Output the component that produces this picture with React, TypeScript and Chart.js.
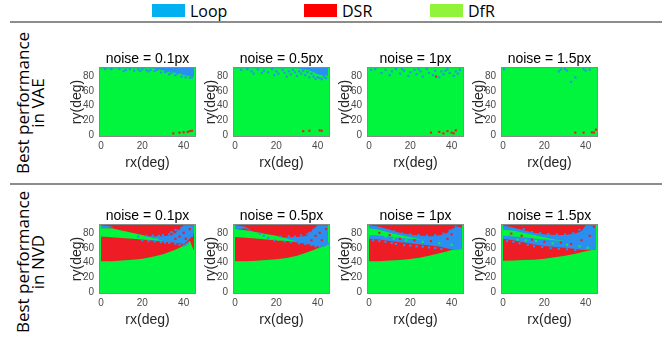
import React, { useEffect, useRef } from "react";
import { Chart, registerables } from "chart.js";

Chart.register(...registerables);

type Pt = [number, number];

// ---------- shared axes ----------
const RX = [0, 5, 10, 15, 20, 25, 30, 35, 38, 40, 43, 45];
const X_TICKS = [0, 20, 40];
const Y_TICKS = [0, 20, 40, 60, 80];
const NOISE_TITLES = ["noise = 0.1px", "noise = 0.5px", "noise = 1px", "noise = 1.5px"];
const LEGEND_LABELS = ["Loop", "DSR", "DfR"];
const ROW_LABELS = [["Best performance", "in VAE"], ["Best performance", "in NVD"]];

// ---------- VAE row ----------
const VAE1_LOOP_LO = [90, 90, 90, 90, 90, 90, 87, 84.5, 83, 81, 79.5, 79];
const VAE2_LOOP_LO = [90, 90, 90, 90, 90, 90, 90, 88, 85, 82, 80.5, 80];

const VAE1_LOOP_PTS: Pt[] = [[2, 89], [5, 89], [9, 89.5], [11, 86.5], [12, 88], [14, 89], [16, 87], [18, 88.5], [19, 86.5], [20, 89], [22, 87.5], [23, 86], [24, 88], [26, 86.5], [27, 88], [29, 84.5], [31, 85], [32, 86], [33, 82], [34, 84], [36, 81], [37, 83], [39, 79], [41, 78], [43, 77.5], [44, 78]];
const VAE1_DSR_PTS: Pt[] = [[35, 3], [38, 4], [40, 4.5], [42, 5], [43, 6], [44, 6.5]];

const VAE2_LOOP_PTS: Pt[] = [[3, 88], [6, 89], [8, 86], [9, 83], [11, 88.5], [13, 84], [14, 87], [16, 85], [18, 89], [19, 81], [20, 86], [21, 83], [23, 88], [24, 84], [25, 79], [26, 86], [27, 82], [28, 88], [29, 85], [30, 80], [31, 86], [32, 83], [33, 87], [34, 81], [35, 85], [36, 78], [37, 83], [38, 79], [39, 76], [40, 78], [41, 77], [42, 75.5], [43, 79], [44, 77]];
const VAE2_DSR_PTS: Pt[] = [[33, 6], [36, 6.5], [41, 7], [42, 6.5]];

const VAE3_LOOP_PTS: Pt[] = [[1, 88], [3, 89], [6, 84], [8, 88], [10, 81], [11, 86], [13, 89], [15, 83], [16, 89], [17, 87], [19, 80], [20, 85], [22, 88], [23, 82], [24, 89], [25, 86], [26, 79], [28, 89], [29, 84], [31, 81], [32, 87], [34, 78], [35, 86], [36, 82], [37, 87], [38, 89], [39, 84], [41, 80], [42, 86], [43, 83], [44, 88]];
const VAE3_DSR_PTS: Pt[] = [[32.5, 79], [30, 4], [34, 5], [36, 3], [38, 6], [40, 4], [41, 3], [42, 7]];

const VAE4_LOOP_PTS: Pt[] = [[0.5, 89], [27, 86], [28, 88.5], [30, 89], [31, 87], [33, 72], [35, 78], [39, 89], [40, 87], [42, 88.5]];
const VAE4_DSR_PTS: Pt[] = [[35, 4], [39, 4], [43, 4.5], [44, 4], [45, 8]];

// ---------- NVD row ----------
const NVD1_DSR_LO = [42, 42, 43, 44, 45.5, 48, 51.5, 56.5, 60, 63, 69, 56];
const NVD1_LOOP_LO = [85, 87, 78, 76, 71.5, 69.5, 68, 67, 66, 65, 72, 79];
const NVD1_LOOP_HI = [90, 88.5, 78, 76, 75, 75.5, 75.5, 77, 84, 90, 90, 90];
const NVD1_DFR_LO = [75, 74, 73, 72, 71, 70.5, 69.5, 69, 70, 70, 70, 70];
const NVD1_DFR_HI = [86, 86, 83, 80, 77, 73, 69.5, 69, 70, 70, 70, 70];
const NVD1_LOOP_PTS: Pt[] = [[18, 75], [20, 70], [22, 76], [23, 69], [25, 76.5], [26, 68.5], [28, 76], [29, 67.5], [30, 77], [31, 67], [33, 78], [33, 66.5], [34, 81], [35, 79], [36, 65.5], [36, 84], [37, 83], [38, 64], [39, 87], [40, 63], [41, 64], [42, 66], [44, 76]];
const NVD1_DSR_PTS: Pt[] = [[36, 72], [38, 75], [40, 80], [41, 72], [43, 85]];
const NVD1_DFR_PTS: Pt[] = [[19, 73], [21, 73], [24, 72], [27, 71.5]];

const NVD2_DSR_LO = [42, 42, 42.5, 43.5, 44.5, 46.5, 49.5, 54, 57, 59.5, 63, 65];
const NVD2_LOOP_LO = [84, 86, 79, 75, 71, 69.5, 67, 65, 63, 62, 63, 66];
const NVD2_LOOP_HI = [90, 88, 79, 75, 73, 74, 74.5, 76, 85, 90, 90, 90];
const NVD2_DFR_LO = [74.5, 73.5, 72.5, 71, 70, 69, 68.5, 68, 68, 68, 68, 68];
const NVD2_DFR_HI = [85, 83.5, 81, 78.5, 76, 72, 68.5, 68, 68, 68, 68, 68];
const NVD2_LOOP_PTS: Pt[] = [[12, 79], [14, 76], [16, 73], [19, 70], [22, 75], [24, 68.5], [26, 75.5], [27, 67.5], [29, 75], [31, 66], [32, 76.5], [34, 65], [35, 78], [36, 80], [37, 63.5], [38, 84], [39, 62], [41, 61], [43, 62.5], [44, 64], [45, 65.5]];
const NVD2_DSR_PTS: Pt[] = [[37, 70], [39, 76], [41, 80], [42, 70], [44, 85]];
const NVD2_DFR_PTS: Pt[] = [[18, 72], [21, 71], [25, 70.5]];

const NVD3_DSR_LO = [42, 42, 43, 43.5, 45, 47, 50, 53.5, 55.5, 57, 58.5, 59];
const NVD3_LOOP_LO = [72, 71, 69, 67.5, 66, 64.5, 63, 61, 59, 58, 57.5, 58];
const NVD3_LOOP_HI = [90, 88, 84, 80, 77.5, 76, 75.5, 77, 80, 85, 88, 87];
const NVD3_DFR_LO = [77, 76.5, 75, 73, 72, 71, 71, 71, 71, 71, 71, 71];
const NVD3_DFR_HI = [86, 84, 80, 77, 74, 71.5, 71, 71, 71, 71, 71, 71];
const NVD3_LOOP_PTS: Pt[] = [[2, 70], [3, 88], [5, 69], [6, 85], [8, 68], [11, 66.5], [12, 82], [13, 65], [16, 79], [17, 63.5], [20, 63], [20, 78], [23, 62], [24, 77], [26, 61.5], [28, 76.5], [29, 60.5], [32, 59.5], [32, 77], [35, 58.5], [36, 79], [39, 83], [42, 88]];
const NVD3_DSR_PTS: Pt[] = [[5, 80], [10, 77], [15, 72], [22, 70], [30, 69], [38, 72], [40, 78], [44, 89]];
const NVD3_DFR_PTS: Pt[] = [[8, 75], [12, 72], [18, 70], [26, 68], [34, 66], [40, 64]];

const NVD4_DSR_LO = [42.5, 43, 43.5, 44, 45.5, 47.5, 49.5, 52, 54, 55.5, 57, 58];
const NVD4_LOOP_LO = [72, 70, 67, 64.5, 62.5, 61, 60, 58.5, 57.5, 57, 57, 58];
const NVD4_LOOP_HI = [90, 87, 83.5, 80, 78, 77, 77, 79, 82, 90, 90, 90];
const NVD4_DFR_LO = [76, 75, 74, 72.5, 71, 70, 69, 69, 69, 69, 69, 69];
const NVD4_DFR_HI = [84, 83, 80, 77, 74, 71, 69, 69, 69, 69, 69, 69];
const NVD4_LOOP_PTS: Pt[] = [[2, 69], [3, 75], [5, 68], [6, 73], [8, 66], [10, 85], [12, 64], [14, 81], [15, 62], [18, 79.5], [19, 61], [22, 78.5], [23, 59.5], [26, 78], [27, 58.5], [30, 78], [31, 58], [34, 79.5], [35, 57], [37, 84]];
const NVD4_DSR_PTS: Pt[] = [[4, 79], [9, 76], [14, 71], [20, 68], [28, 67], [33, 65], [38, 70], [42, 76], [44, 88]];
const NVD4_DFR_PTS: Pt[] = [[7, 71], [11, 70], [16, 69], [24, 66], [31, 64], [37, 62], [41, 60]];

// ---------- styles / layout ----------
const C_LOOP = "#2a8ff0";
const C_DSR = "#ee1c24";
const C_DFR = "#00f53c";
const LEG_LOOP = "#00b0f0";
const LEG_DSR = "#ff0000";
const LEG_DFR = "#92f43a";
const FONT = "'Liberation Sans', Arial, sans-serif";
const PLOT_LEFTS = [100, 234, 368, 502];
const PLOT_TOPS = [68, 225];
const PLOT_W = 95;
const PLOT_H = 68;
const PAD_L = 40;
const PAD_T = 22;
const PAD_B = 40;
const PAD_R = 5;

interface PanelCfg {
  title: string;
  dsrLo?: number[];
  loopLo?: number[];
  loopHi?: number[];
  dfrLo?: number[];
  dfrHi?: number[];
  loopPts: Pt[];
  dsrPts: Pt[];
  dfrPts: Pt[];
}

const PANELS: PanelCfg[][] = [
  [
    { title: NOISE_TITLES[0], loopLo: VAE1_LOOP_LO, loopPts: VAE1_LOOP_PTS, dsrPts: VAE1_DSR_PTS, dfrPts: [] },
    { title: NOISE_TITLES[1], loopLo: VAE2_LOOP_LO, loopPts: VAE2_LOOP_PTS, dsrPts: VAE2_DSR_PTS, dfrPts: [] },
    { title: NOISE_TITLES[2], loopPts: VAE3_LOOP_PTS, dsrPts: VAE3_DSR_PTS, dfrPts: [] },
    { title: NOISE_TITLES[3], loopPts: VAE4_LOOP_PTS, dsrPts: VAE4_DSR_PTS, dfrPts: [] },
  ],
  [
    { title: NOISE_TITLES[0], dsrLo: NVD1_DSR_LO, loopLo: NVD1_LOOP_LO, loopHi: NVD1_LOOP_HI, dfrLo: NVD1_DFR_LO, dfrHi: NVD1_DFR_HI, loopPts: NVD1_LOOP_PTS, dsrPts: NVD1_DSR_PTS, dfrPts: NVD1_DFR_PTS },
    { title: NOISE_TITLES[1], dsrLo: NVD2_DSR_LO, loopLo: NVD2_LOOP_LO, loopHi: NVD2_LOOP_HI, dfrLo: NVD2_DFR_LO, dfrHi: NVD2_DFR_HI, loopPts: NVD2_LOOP_PTS, dsrPts: NVD2_DSR_PTS, dfrPts: NVD2_DFR_PTS },
    { title: NOISE_TITLES[2], dsrLo: NVD3_DSR_LO, loopLo: NVD3_LOOP_LO, loopHi: NVD3_LOOP_HI, dfrLo: NVD3_DFR_LO, dfrHi: NVD3_DFR_HI, loopPts: NVD3_LOOP_PTS, dsrPts: NVD3_DSR_PTS, dfrPts: NVD3_DFR_PTS },
    { title: NOISE_TITLES[3], dsrLo: NVD4_DSR_LO, loopLo: NVD4_LOOP_LO, loopHi: NVD4_LOOP_HI, dfrLo: NVD4_DFR_LO, dfrHi: NVD4_DFR_HI, loopPts: NVD4_LOOP_PTS, dsrPts: NVD4_DSR_PTS, dfrPts: NVD4_DFR_PTS },
  ],
];

const xy = (ys: number[]) => RX.map((x, i) => ({ x, y: ys[i] }));
const pts = (p: Pt[]) => p.map(([x, y]) => ({ x, y }));

const framePlugin = {
  id: "frame",
  beforeDatasetsDraw(chart: any) {
    const { ctx, chartArea: a } = chart;
    ctx.save();
    ctx.fillStyle = C_DFR;
    ctx.fillRect(a.left, a.top, a.right - a.left, a.bottom - a.top);
    ctx.restore();
  },
  afterDraw(chart: any) {
    const { ctx, chartArea: a } = chart;
    ctx.save();
    ctx.strokeStyle = "#8a8a8a";
    ctx.lineWidth = 1;
    ctx.strokeRect(Math.round(a.left) - 0.5, Math.round(a.top) - 0.5, Math.round(a.right - a.left) + 1, Math.round(a.bottom - a.top) + 1);
    ctx.restore();
  },
};

function buildDatasets(cfg: PanelCfg) {
  const base = { pointRadius: 0, borderWidth: 0, borderColor: "rgba(0,0,0,0)", tension: 0 };
  const ds: any[] = [];
  if (cfg.dsrLo) ds.push({ ...base, data: xy(cfg.dsrLo), fill: "end", backgroundColor: C_DSR, order: 6 });
  if (cfg.loopLo) {
    const i = ds.length;
    if (cfg.loopHi) {
      ds.push({ ...base, data: xy(cfg.loopLo), fill: false, order: 5 });
      ds.push({ ...base, data: xy(cfg.loopHi), fill: i, backgroundColor: C_LOOP, order: 4 });
    } else {
      ds.push({ ...base, data: xy(cfg.loopLo), fill: "end", backgroundColor: C_LOOP, order: 4 });
    }
  }
  if (cfg.dfrLo && cfg.dfrHi) {
    const i = ds.length;
    ds.push({ ...base, data: xy(cfg.dfrLo), fill: false, order: 3.5 });
    ds.push({ ...base, data: xy(cfg.dfrHi), fill: i, backgroundColor: C_DFR, order: 3 });
  }
  const speck = (p: Pt[], c: string) => ({
    data: pts(p),
    showLine: false,
    pointStyle: "rect",
    pointRadius: 1.5,
    pointBorderWidth: 0,
    pointBackgroundColor: c,
    borderColor: "rgba(0,0,0,0)",
    order: 1,
  });
  ds.push(speck(cfg.dfrPts, C_DFR));
  ds.push(speck(cfg.loopPts, C_LOOP));
  ds.push(speck(cfg.dsrPts, C_DSR));
  return ds;
}

function Panel({ cfg, left, top }: { cfg: PanelCfg; left: number; top: number }) {
  const ref = useRef<HTMLCanvasElement>(null);
  useEffect(() => {
    const chart = new Chart(ref.current!, {
      type: "line",
      data: { datasets: buildDatasets(cfg) },
      plugins: [framePlugin],
      options: {
        animation: false,
        responsive: false,
        events: [],
        layout: { padding: { right: PAD_R, left: 0, top: 0, bottom: 0 } },
        plugins: {
          legend: { display: false },
          tooltip: { enabled: false },
          title: {
            display: true,
            text: cfg.title,
            fullSize: false,
            color: "#000",
            font: { family: FONT, size: 14, weight: "normal", lineHeight: 1.2 },
            padding: { top: 4.6, bottom: 0.6 },
          },
        },
        scales: {
          x: {
            type: "linear",
            min: -0.5,
            max: 45.5,
            afterFit: (s: any) => { s.height = PAD_B; },
            afterBuildTicks: (s: any) => { s.ticks = X_TICKS.map((v) => ({ value: v })); },
            grid: { display: false, drawTicks: false },
            border: { display: false },
            ticks: { padding: 4, color: "#4a4a4a", font: { family: FONT, size: 10 }, maxRotation: 0, autoSkip: false },
            title: { display: true, text: "rx(deg)", color: "#262626", font: { family: FONT, size: 14, lineHeight: 1.2 }, padding: { top: 0, bottom: 4 } },
          },
          y: {
            type: "linear",
            min: -0.5,
            max: 90.5,
            afterFit: (s: any) => { s.width = PAD_L; },
            afterBuildTicks: (s: any) => { s.ticks = Y_TICKS.map((v) => ({ value: v })); },
            grid: { display: false, drawTicks: false },
            border: { display: false },
            ticks: { padding: 6, color: "#4a4a4a", font: { family: FONT, size: 10 }, autoSkip: false },
            title: { display: true, text: "ry(deg)", color: "#262626", font: { family: FONT, size: 14, lineHeight: 1.2 }, padding: { top: 8.6, bottom: 0 } },
          },
        },
      } as any,
    });
    return () => chart.destroy();
  }, [cfg]);
  return (
    <canvas
      ref={ref}
      width={PAD_L + PLOT_W + PAD_R}
      height={PAD_T + PLOT_H + PAD_B}
      style={{ position: "absolute", left: left - PAD_L, top: top - PAD_T }}
    />
  );
}

export default function App() {
  const legendColors = [LEG_LOOP, LEG_DSR, LEG_DFR];
  const legendBoxLefts = [152, 304, 430];
  return (
    <div style={{ position: "absolute", left: 0, top: 0, width: 672, height: 339, background: "#fff", overflow: "hidden" }}>
      {LEGEND_LABELS.map((lab, i) => (
        <React.Fragment key={lab}>
          <div style={{ position: "absolute", left: legendBoxLefts[i], top: 4, width: 33, height: 13, background: legendColors[i] }} />
          <div style={{ position: "absolute", left: legendBoxLefts[i] + 38, top: 0, height: 22, lineHeight: "21px", font: "16px 'Open Sans', sans-serif", color: "#000" }}>{lab}</div>
        </React.Fragment>
      ))}
      <div style={{ position: "absolute", left: 10, top: 21, width: 652, height: 2, background: "#8c8c8c" }} />
      <div style={{ position: "absolute", left: 10, top: 183, width: 652, height: 2, background: "#8c8c8c" }} />
      {ROW_LABELS.map((lines, r) => (
        <div
          key={r}
          style={{
            position: "absolute",
            left: 30,
            top: r === 0 ? 103 : 262,
            transform: "translate(-50%, -50%) rotate(-90deg)",
            whiteSpace: "nowrap",
            textAlign: "center",
            font: "17px 'Open Sans', sans-serif",
            lineHeight: "15px",
            color: "#000",
          }}
        >
          {lines[0]}
          <br />
          {lines[1]}
        </div>
      ))}
      {PANELS.map((row, r) =>
        row.map((cfg, c) => <Panel key={`${r}-${c}`} cfg={cfg} left={PLOT_LEFTS[c]} top={PLOT_TOPS[r]} />)
      )}
    </div>
  );
}
